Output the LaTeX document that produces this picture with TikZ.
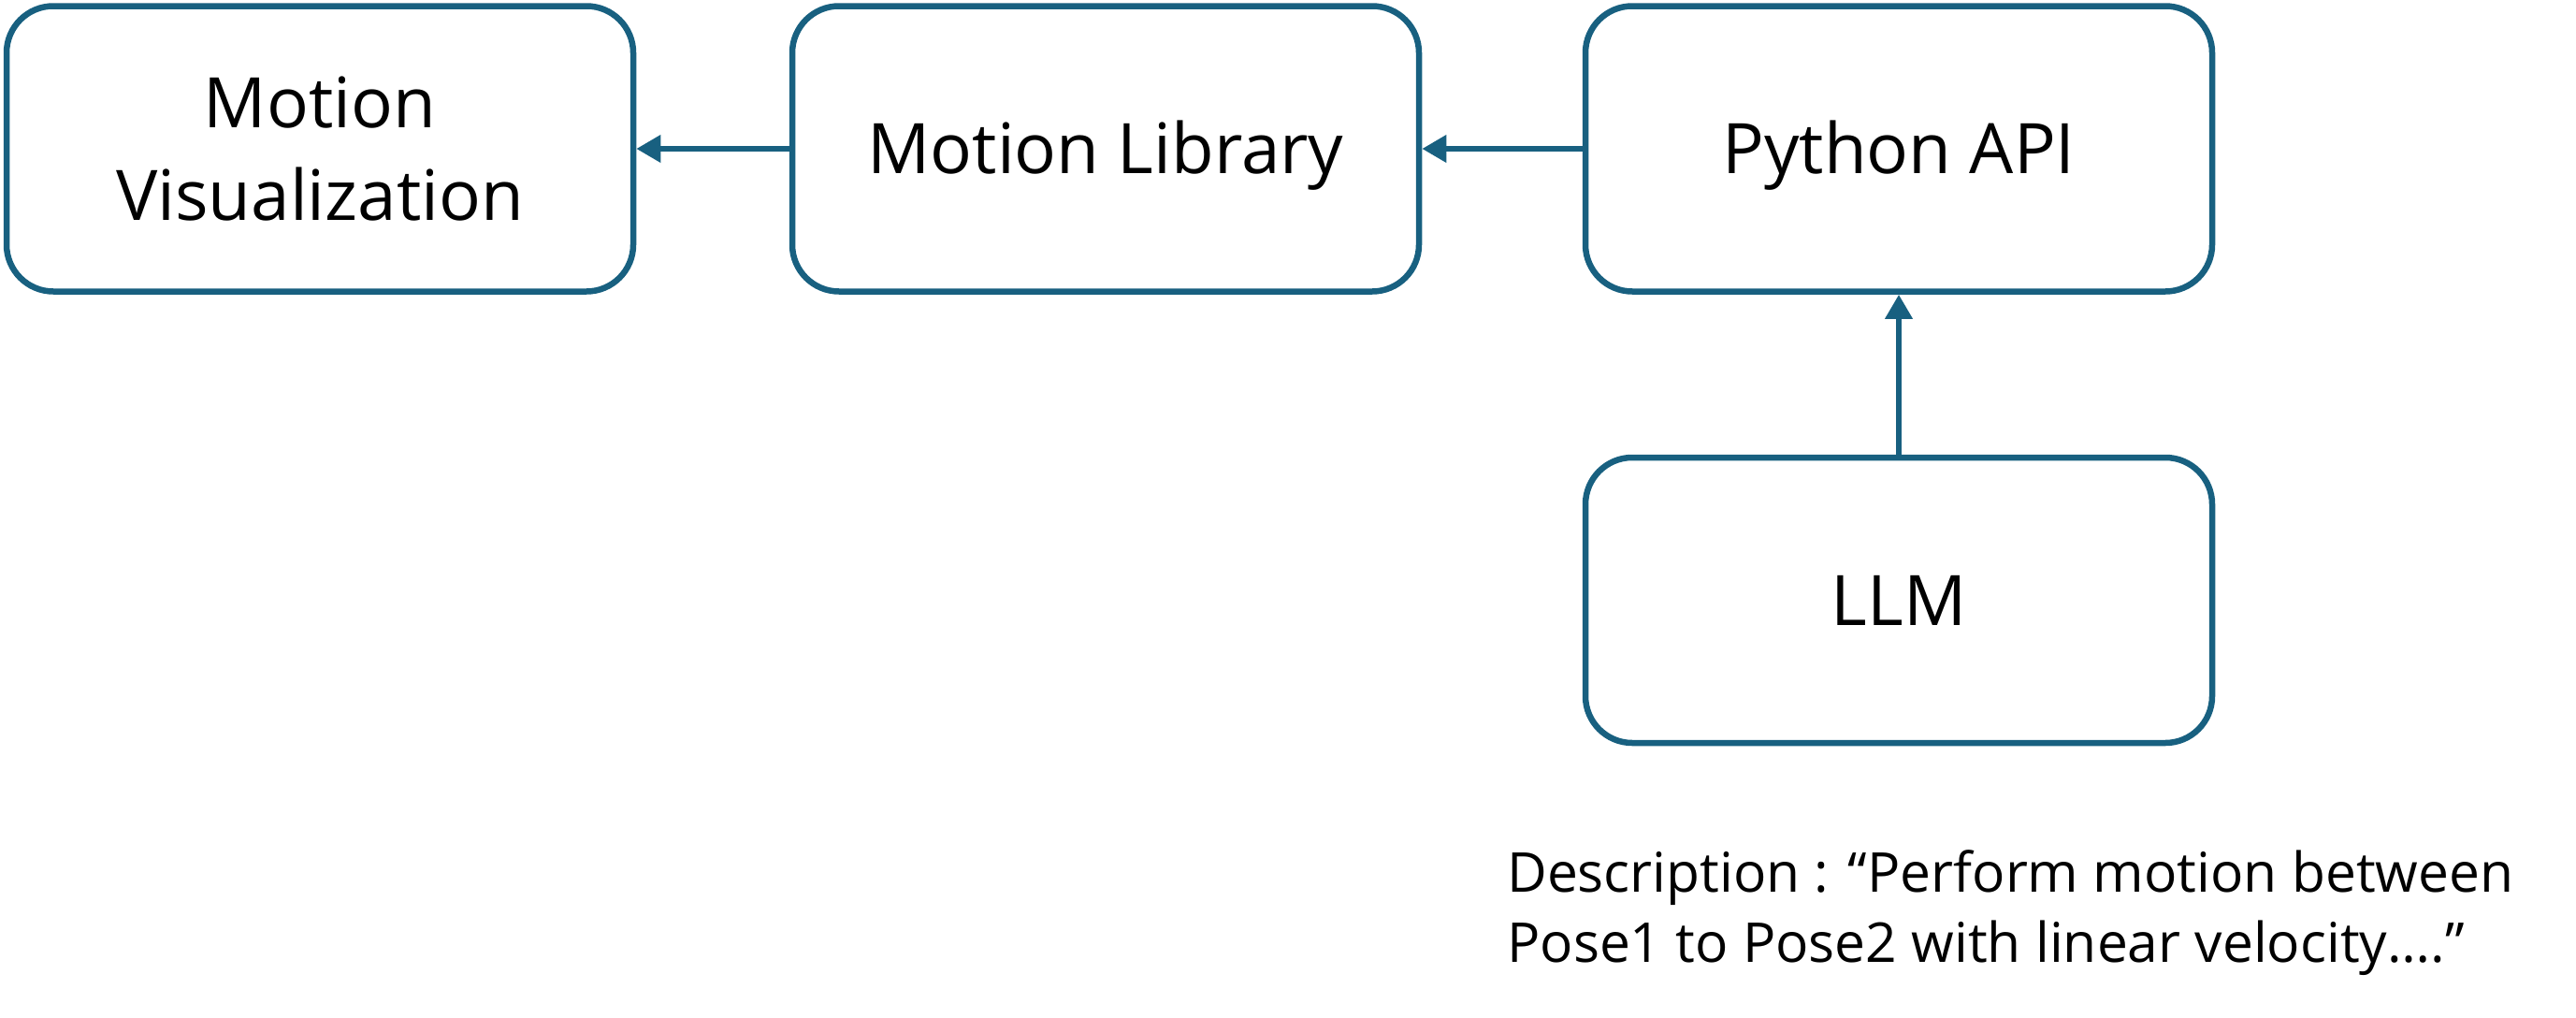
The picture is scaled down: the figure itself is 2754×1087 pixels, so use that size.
\documentclass[tikz,border=0pt]{standalone}
\usepackage{fontspec}
\setmainfont{Open Sans}
\usetikzlibrary{arrows.meta}
\definecolor{boxblue}{RGB}{24,96,128}
\begin{document}
\begin{tikzpicture}[x=1pt,y=-1pt,
  box/.style={draw=boxblue, line width=6.5pt, rounded corners=50pt,
    minimum width=670pt, minimum height=305pt, align=center,
    font=\fontsize{74.5}{99}\selectfont, inner sep=0pt},
  oneline/.style={text height=53pt, text depth=0pt},
  arr/.style={draw=boxblue, line width=6.5pt, -{Triangle[length=26pt,width=28pt]}},
  desc/.style={font=\fontsize{58.7}{75}\selectfont, anchor=base west, inner sep=0pt}]
\useasboundingbox (0,0) rectangle (2754,1087);
\node[box] (mv) at (342,159) {Motion\\Visualization};
\node[box, oneline] (ml) at (1182,159) {Motion Library};
\node[box, oneline] (pa) at (2030,159) {Python API};
\node[box, oneline] (llm) at (2030,641.5) {LLM};
\draw[arr] (ml.west) -- (mv.east);
\draw[arr] (pa.west) -- (ml.east);
\draw[arr] (llm.north) -- (pa.south);
\node[desc] (d1) at (1611,953) {Description : “Perform motion between};
\node[desc] (d2) at (1611,1028) {Pose1 to Pose2 with linear velocity….”};
\end{tikzpicture}
\end{document}
